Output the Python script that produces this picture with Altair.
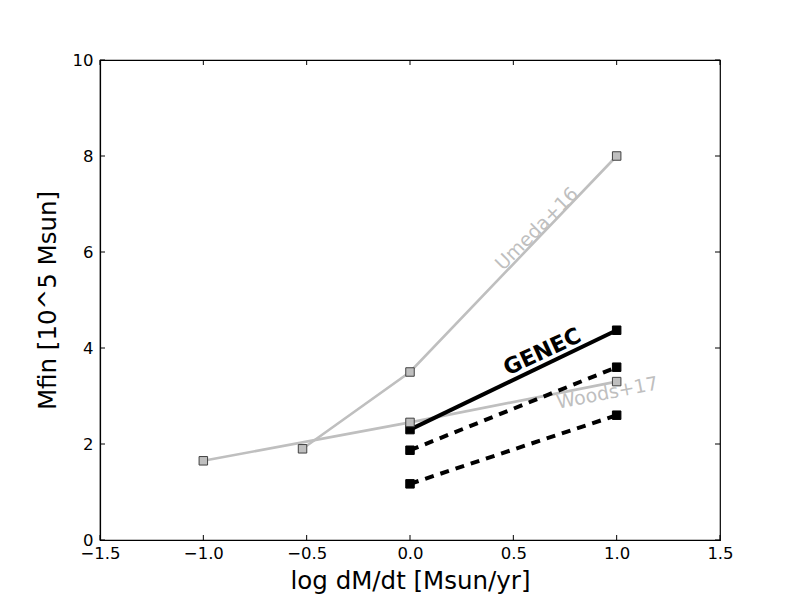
import altair as alt
import pandas as pd

# Data
umeda_x = [-0.52, 0.0, 1.0]
umeda_y = [1.9, 3.5, 8.0]
woods_x = [-1.0, 0.0, 1.0]
woods_y = [1.65, 2.45, 3.3]
genec_x = [0.0, 1.0]
genec_y = [2.3, 4.37]
dash1_x = [0.0, 1.0]
dash1_y = [1.87, 3.6]
dash2_x = [0.0, 1.0]
dash2_y = [1.17, 2.6]

x_ticks = [-1.5, -1.0, -0.5, 0.0, 0.5, 1.0, 1.5]
y_ticks = [0, 2, 4, 6, 8, 10]

labels = pd.DataFrame({
    "x": [0.614, 0.64, 0.955],
    "y": [6.48, 3.92, 3.06],
    "text": ["Umeda+16", "GENEC", "Woods+17"],
})

W, H = 620, 480
FONT = "DejaVu Sans"

xs = alt.Scale(domain=[-1.5, 1.5], nice=False, zero=False)
ys = alt.Scale(domain=[0, 10], nice=False, zero=False)

xax = alt.Axis(title="log dM/dt [Msun/yr]", values=x_ticks, format=".1f", ticks=False,
               grid=False, labelFontSize=16.5, titleFontSize=24.5, labelPadding=5,
               titlePadding=8, labelFont=FONT, titleFont=FONT, labelColor="black",
               titleColor="black", titleFontWeight="normal", domainColor="black",
               labelFlush=False, labelOverlap=False)
yax = alt.Axis(title="Mfin [10^5 Msun]", values=y_ticks, format="d", ticks=False,
               grid=False, labelFontSize=16.5, titleFontSize=24.5, labelPadding=7,
               titlePadding=12, labelFont=FONT, titleFont=FONT, labelColor="black",
               titleColor="black", titleFontWeight="normal", domainColor="black",
               labelFlush=False, labelOverlap=False)


def series(xv, yv, color, width, fill, stroke, dash=None):
    df = pd.DataFrame({"x": xv, "y": yv})
    base = alt.Chart(df)
    line_kwargs = dict(color=color, strokeWidth=width)
    if dash:
        line_kwargs["strokeDash"] = dash
    line = base.mark_line(**line_kwargs).encode(
        x=alt.X("x:Q", scale=xs, axis=xax),
        y=alt.Y("y:Q", scale=ys, axis=yax),
    )
    pts = base.mark_square(size=72, fill=fill, stroke=stroke, strokeWidth=1, opacity=1).encode(
        x=alt.X("x:Q", scale=xs),
        y=alt.Y("y:Q", scale=ys),
    )
    return line, pts

gray = "#bfbfbf"
l_u, p_u = series(umeda_x, umeda_y, gray, 2.6, gray, "#404040")
l_w, p_w = series(woods_x, woods_y, gray, 2.6, gray, "#404040")
l_g, p_g = series(genec_x, genec_y, "black", 4, "black", "black")
l_d1, p_d1 = series(dash1_x, dash1_y, "black", 4, "black", "black", [9, 7])
l_d2, p_d2 = series(dash2_x, dash2_y, "black", 4, "black", "black", [9, 7])

xt = pd.DataFrame({"v": x_ticks})
yt = pd.DataFrame({"v": y_ticks})
tick_b = alt.Chart(xt).mark_rule(color="black", strokeWidth=1).encode(
    x=alt.X("v:Q", scale=xs), y=alt.value(H), y2=alt.value(H - 5))
tick_t = alt.Chart(xt).mark_rule(color="black", strokeWidth=1).encode(
    x=alt.X("v:Q", scale=xs), y=alt.value(0), y2=alt.value(5))
tick_l = alt.Chart(yt).mark_rule(color="black", strokeWidth=1).encode(
    y=alt.Y("v:Q", scale=ys), x=alt.value(0), x2=alt.value(5))
tick_r = alt.Chart(yt).mark_rule(color="black", strokeWidth=1).encode(
    y=alt.Y("v:Q", scale=ys), x=alt.value(W), x2=alt.value(W - 5))

lab = alt.Chart(labels)
t_u = lab.transform_filter(alt.datum.text == "Umeda+16").mark_text(
    angle=315, fontSize=19, color=gray, font=FONT, align="center", baseline="middle").encode(
    x=alt.X("x:Q", scale=xs), y=alt.Y("y:Q", scale=ys), text="text:N")
t_g = lab.transform_filter(alt.datum.text == "GENEC").mark_text(
    angle=335, fontSize=22, color="black", font=FONT, fontWeight="bold",
    align="center", baseline="middle").encode(
    x=alt.X("x:Q", scale=xs), y=alt.Y("y:Q", scale=ys), text="text:N")
t_w = lab.transform_filter(alt.datum.text == "Woods+17").mark_text(
    angle=349, fontSize=19, color=gray, font=FONT, align="center", baseline="middle").encode(
    x=alt.X("x:Q", scale=xs), y=alt.Y("y:Q", scale=ys), text="text:N")

chart = alt.layer(
    l_u, l_w, p_u, l_d2, l_d1, l_g, p_d2, p_d1, p_g, p_w,
    tick_b, tick_t, tick_l, tick_r, t_u, t_g, t_w,
).properties(
    width=W, height=H,
    autosize=alt.AutoSizeParams(type="none"),
    padding={"left": 92, "top": 52, "right": 64, "bottom": 60},
    background="white",
).configure_view(stroke="black", strokeWidth=1.2).configure_axis(domainWidth=1.2)

chart.save("out.html", embed_options={"renderer": "svg", "actions": False})
